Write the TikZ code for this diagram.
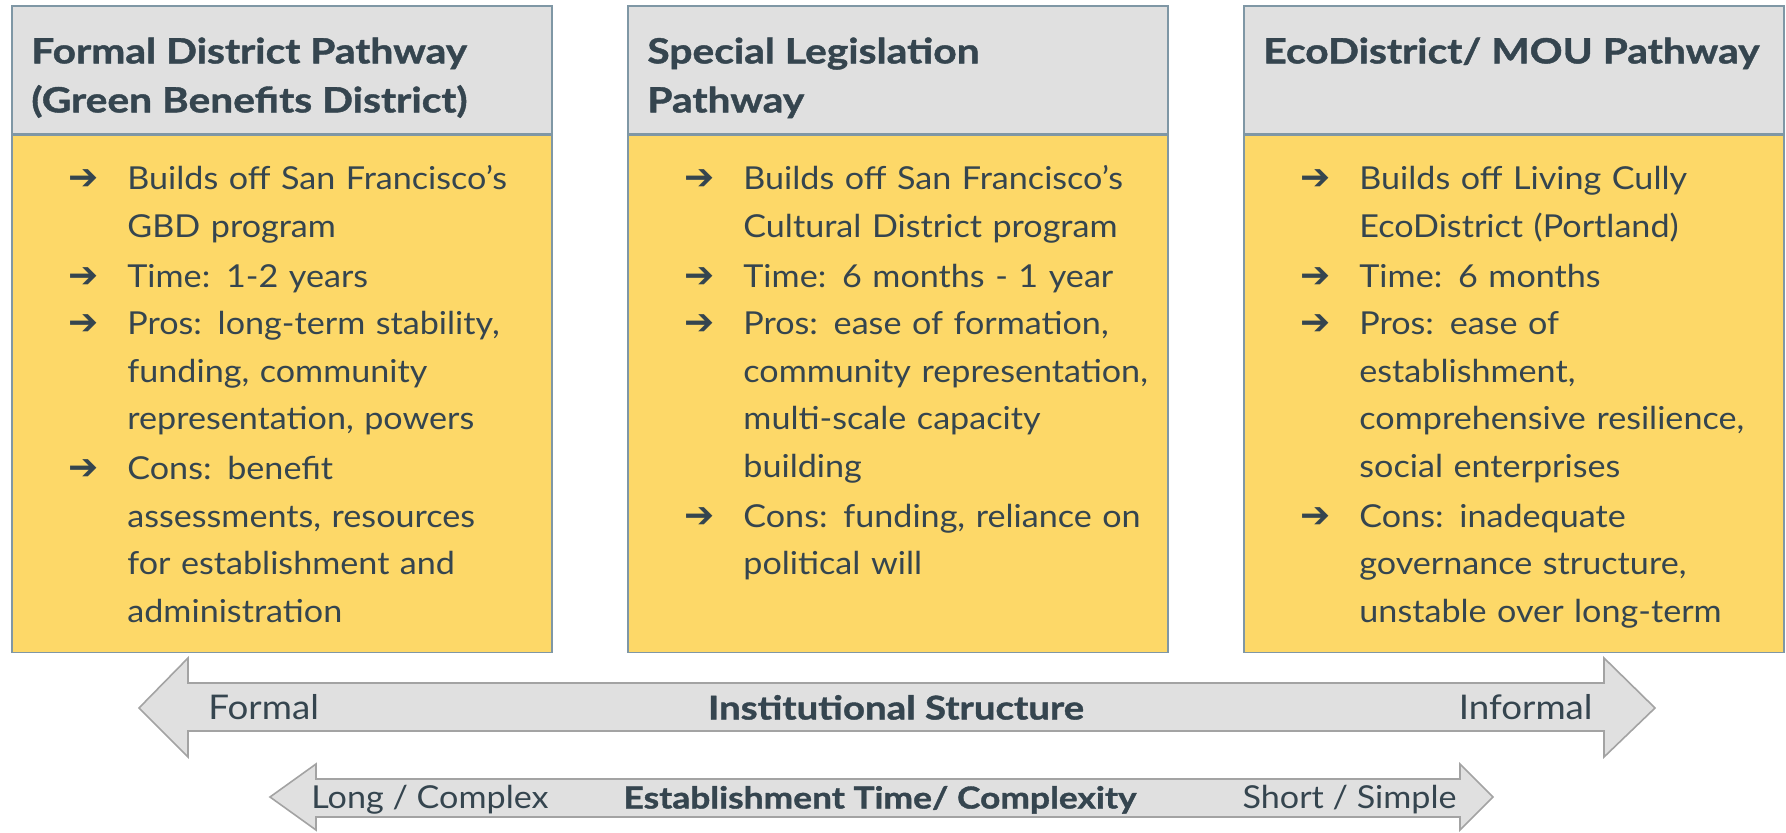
\documentclass[tikz,border=0pt]{standalone}
\usepackage{fontspec}
\setmainfont{Lato}[FakeStretch=1.08]
\newfontfamily\headfam{Lato}[FakeStretch=1.17, BoldFeatures={FakeBold=1.2}]
\newfontfamily\symfont{DejaVu Sans}
\usetikzlibrary{positioning}

\definecolor{headgray}{HTML}{E0E0E0}
\definecolor{bodyyellow}{HTML}{FDD868}
\definecolor{edgeblue}{HTML}{7F97A5}
\definecolor{arrowedge}{HTML}{A3A3A3}
\definecolor{ink}{HTML}{35454F}

\newcommand\headfont{\headfam\bfseries\fontsize{17.4}{24.5}\selectfont}
\newcommand\bodyfont{\fontsize{15.8}{23.8}\selectfont}
\newcommand\pitem[1]{\noindent\makebox[29.5pt][l]{\symfont\fontsize{18}{18}\selectfont ➔}\parbox[t]{215pt}{\strut#1\strut}\par}

\begin{document}
\begin{tikzpicture}[x=0.5pt, y=-0.5pt,
                head/.style={draw=edgeblue, fill=headgray, line width=0.8pt, anchor=north west,
                             inner sep=0pt, minimum width=270pt, minimum height=64pt},
                body/.style={draw=edgeblue, fill=bodyyellow, line width=0.8pt, anchor=north west,
                             inner sep=0pt, minimum width=270pt, minimum height=258.5pt},
                headtext/.style={anchor=north west, inner sep=0pt, align=left, text=ink, font=\headfont},
                bodytext/.style={anchor=north west, inner sep=0pt, text width=245pt, text=ink, font=\bodyfont},
                band/.style={draw=arrowedge, fill=headgray, line width=0.8pt},
                tag/.style={inner sep=0pt, text=ink, text height=11.5pt, text depth=0pt}
            ]
            \useasboundingbox (0,0) rectangle (1786,833);

            % the three pathways
            \node[head] (formalhead) at (11,5) {};
            \node[body] (formalbody) at (formalhead.south west) {};
            \node[head] (speclhead) at (627,5) {};
            \node[body] (speclbody) at (speclhead.south west) {};
            \node[head] (ecohead) at (1243,5) {};
            \node[body] (ecobody) at (ecohead.south west) {};

            \node[headtext] (formaltitle) at ([shift={(20,23.7)}]formalhead.north west)
                {\strut Formal District Pathway\\(Green Benefits District)};
            \node[headtext] (speclttitle) at ([shift={(20,23.7)}]speclhead.north west)
                {\strut Special Legislation\\Pathway};
            \node[headtext] (ecotitle) at ([shift={(20,23.7)}]ecohead.north west)
                {\strut EcoDistrict/ MOU Pathway};

            \node[bodytext] (formaltext) at ([shift={(57,21.5)}]formalbody.north west) {%
                \pitem{Builds off San Francisco’s\\GBD program}
                \pitem{Time: 1-2 years}
                \pitem{Pros: long-term stability,\\funding, community\\representation, powers}
                \pitem{Cons: benefit\\assessments, resources\\for establishment and\\administration}};
            \node[bodytext] (specltext) at ([shift={(57,21.5)}]speclbody.north west) {%
                \pitem{Builds off San Francisco’s\\Cultural District program}
                \pitem{Time: 6 months - 1 year}
                \pitem{Pros: ease of formation,\\community representation,\\multi-scale capacity\\building}
                \pitem{Cons: funding, reliance on\\political will}};
            \node[bodytext] (ecotext) at ([shift={(57,21.5)}]ecobody.north west) {%
                \pitem{Builds off Living Cully\\EcoDistrict (Portland)}
                \pitem{Time: 6 months}
                \pitem{Pros: ease of\\establishment,\\comprehensive resilience,\\social enterprises}
                \pitem{Cons: inadequate\\governance structure,\\unstable over long-term}};

            % scales underneath
            \draw[band] (139,708) -- (188,658) -- (188,683) -- (1604,683) -- (1604,658) -- (1655,708)
                -- (1604,757) -- (1604,731) -- (188,731) -- (188,757) -- cycle;
            \draw[band] (270,797) -- (316,764) -- (316,779) -- (1460,779) -- (1460,764) -- (1493,797)
                -- (1460,830) -- (1460,817) -- (316,817) -- (316,830) -- cycle;

            \node[tag, anchor=west, font=\fontsize{17}{17}\selectfont] (formaltag) at (208,708) {Formal};
            \node[tag, font=\headfam\bfseries\fontsize{16.4}{16.4}\selectfont] (structtag) at (896,708) {Institutional Structure};
            \node[tag, anchor=east, font=\fontsize{17}{17}\selectfont] (informaltag) at (1593,708) {Informal};
            \node[tag, anchor=west, font=\bodyfont] (longtag) at (311,797) {Long / Complex};
            \node[tag, font=\headfam\bfseries\fontsize{15.1}{15.1}\selectfont] (timetag) at (880,797) {Establishment Time/ Complexity};
            \node[tag, anchor=east, font=\bodyfont] (shorttag) at (1457,797) {Short / Simple};
        \end{tikzpicture}
\end{document}
